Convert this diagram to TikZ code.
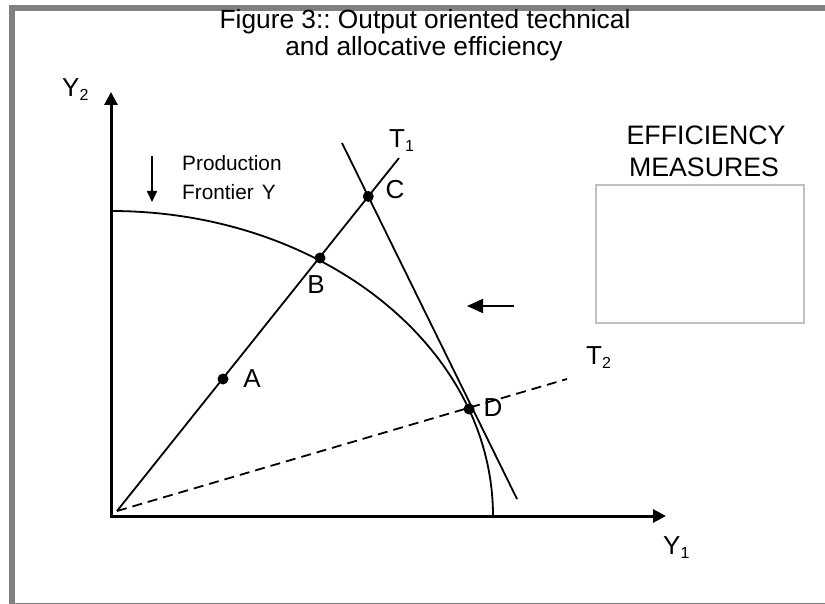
\documentclass[tikz,border=0pt]{standalone}
\usepackage{fontspec}
\setmainfont{Liberation Sans}
\usetikzlibrary{arrows.meta,intersections}
\newcommand{\subtxt}[1]{\raisebox{-4pt}{\fontsize{16}{16}\selectfont #1}}
\begin{document}
\frenchspacing
\begin{tikzpicture}[x=1pt,y=-1pt,
  lbl/.style={inner sep=0pt, font=\fontsize{26}{30}\selectfont},
  small/.style={inner sep=0pt, font=\fontsize{20.8}{24}\selectfont},
  ttl/.style={inner sep=0pt, font=\fontsize{26.3}{30}\selectfont, anchor=base},
  effl/.style={inner sep=0pt, font=\fontsize{26.7}{30}\selectfont},
  thinline/.style={line width=1.8pt},
  axisline/.style={line width=3pt, {Triangle[length=13pt,width=13pt]}-{Triangle[length=13pt,width=13pt]}},
  dotmark/.style={circle, fill=black, inner sep=0pt, minimum size=11pt},
  framecol/.style={draw={rgb,255:red,128;green,128;blue,128}, line width=6pt},
]
\useasboundingbox (0,0) rectangle (825,604);
% outer frame
\draw[framecol] (12,8) rectangle (834,606);

% title
\node[ttl] (title1) at (425,29) {Figure 3:: Output oriented technical};
\node[ttl] (title2) at (424,56) {and allocative efficiency};

% axes
\coordinate (ytop) at (111,92);
\coordinate (O) at (111,516);
\coordinate (xend) at (666,516);
\draw[axisline] (ytop) -- (O) -- (xend);
\node[lbl, anchor=base west] (y2lbl) at (62,97) {Y\subtxt{2}};
\node[lbl, anchor=base west] (y1lbl) at (663,554) {Y\subtxt{1}};

% production frontier (quarter ellipse)
\coordinate (fstart) at (111,211);
\draw[thinline] (fstart) arc[start angle=-90, end angle=0, x radius=382, y radius=305];

% ray from origin
\coordinate (R0) at (117,511);
\coordinate (R1) at (399,158);
\draw[thinline, name path=ray] (R0) -- (R1);

% T1 line
\coordinate (T1a) at (342,143);
\coordinate (T1b) at (517,499);
\draw[thinline, name path=tone] (T1a) -- (T1b);

% T2 dashed line
\coordinate (T2b) at (567,379);
\draw[thinline, dash pattern=on 10pt off 6pt] (R0) -- (T2b);

% points
\path[name intersections={of=ray and tone, by=Cpt}];
\node[dotmark] (A) at (223,379) {};
\node[dotmark] (B) at (320,258) {};
\node[dotmark] (C) at (Cpt) {};
\node[dotmark] (D) at (469,409) {};
\node[lbl] (Alb) at (252,379) {A};
\node[lbl] (Blb) at (316,285) {B};
\node[lbl] (Clb) at (395,190) {C};
\node[lbl] (Dlb) at (493,408) {D};

\node[lbl, anchor=base west] (T1lbl) at (389,148) {T\subtxt{1}};
\node[lbl, anchor=base west] (T2lbl) at (586,364) {T\subtxt{2}};

% production frontier label and arrow
\coordinate (dA) at (152,156);
\coordinate (dB) at (152,202);
\draw[thinline, -{Triangle[length=11pt,width=10pt]}] (dA) -- (dB);
\node[small, anchor=base west] (prod) at (182,171) {Production};
\node[small, anchor=base west] (front) at (182,200) {Frontier\hspace{8pt}Y};

% left arrow
\coordinate (lA) at (514,306);
\coordinate (lB) at (467,306);
\draw[thinline, -{Triangle[length=16pt,width=14pt]}] (lA) -- (lB);

% efficiency measures
\node[effl] (eff1) at (706,135) {EFFICIENCY};
\node[effl] (eff2) at (704,167) {MEASURES};
\draw[draw={rgb,255:red,192;green,192;blue,192}, line width=2pt] (596,185) rectangle (804,323);
\end{tikzpicture}
\end{document}
